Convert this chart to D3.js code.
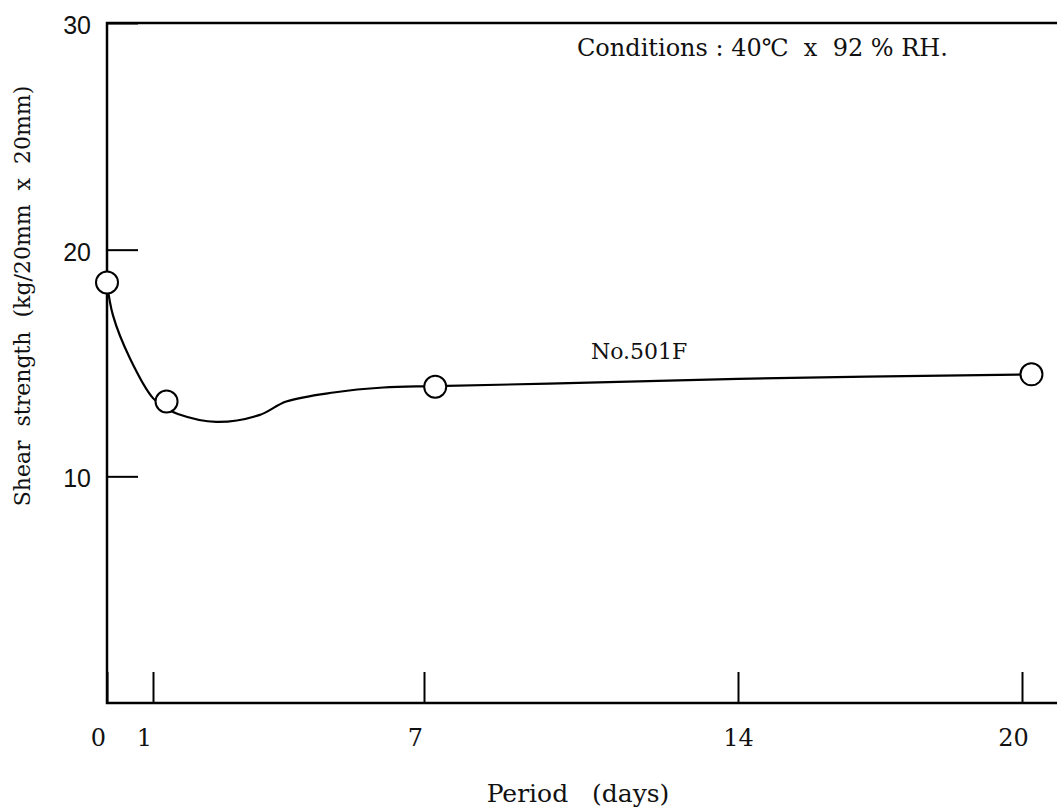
<!DOCTYPE html>
<html>
<head>
<meta charset="utf-8">
<script src="https://cdn.jsdelivr.net/npm/d3@7"></script>
<style>
  body { margin: 0; background: #fff; }
  svg { display: block; }
  text { fill: #111; }
</style>
</head>
<body>
<svg width="1057" height="811"></svg>
<script>
// measured points (days, kg/20mm x 20mm)
let pointDays = [0, 1.3, 7.25, 20.2];
let pointValues = [18.55, 13.3, 13.95, 14.5];

// hand drawn curve through the points
let curveDays = [0, 0.13, 0.5, 1.0, 1.3, 1.55, 2.4, 3.35, 3.95, 5.0, 6.1, 7.25, 10, 14, 20.2];
let curveValues = [18.55, 17.1, 15.2, 13.45, 13.0, 12.75, 12.4, 12.7, 13.3, 13.7, 13.92, 13.98, 14.1, 14.3, 14.5];

let xTicks = [0, 1, 7, 14, 20];
let yTicks = [10, 20, 30];

let svg = d3.select("svg");
let width = 1057;

// axis ticks were drawn by hand, spacing is a bit uneven
let x = d3.scaleLinear().domain([0, 1, 7, 14, 20]).range([107, 153, 424, 738, 1022]);
let y = d3.scaleLinear().domain([0, 30]).range([703, 23]);

// frame: left, top and bottom lines, right side open
svg.append("path")
  .attr("d", "M" + width + "," + y(30) + "H" + x(0) + "V" + y(0) + "H" + width)
  .attr("fill", "none")
  .attr("stroke", "#000")
  .attr("stroke-width", 2.5);

// x axis
let xAxis = svg.append("g")
  .attr("transform", "translate(0," + y(0) + ")")
  .call(d3.axisBottom(x).tickValues(xTicks).tickSizeInner(-31).tickSizeOuter(0).tickPadding(26));
xAxis.select(".domain").remove();
xAxis.selectAll(".tick line").attr("stroke", "#000").attr("stroke-width", 2);
xAxis.selectAll(".tick text")
  .attr("font-family", "DejaVu Serif")
  .attr("font-size", 24)
  .attr("dx", function (d) { return d == 14 ? 0 : -9; });

// y axis
let yAxis = svg.append("g")
  .attr("transform", "translate(" + x(0) + ",0)")
  .call(d3.axisLeft(y).tickValues(yTicks).tickSizeInner(-31).tickSizeOuter(0).tickPadding(16));
yAxis.select(".domain").remove();
yAxis.selectAll(".tick line").attr("stroke", "#000").attr("stroke-width", 2);
yAxis.selectAll(".tick text")
  .attr("font-family", "Liberation Sans")
  .attr("font-size", 25)
  .attr("dy", "0.42em");

// curve
let curveData = curveDays.map(function (d, i) { return [d, curveValues[i]]; });
let line = d3.line()
  .x(function (d) { return x(d[0]); })
  .y(function (d) { return y(d[1]); })
  .curve(d3.curveCatmullRom.alpha(0.5));

svg.append("path")
  .datum(curveData)
  .attr("d", line)
  .attr("fill", "none")
  .attr("stroke", "#000")
  .attr("stroke-width", 2.2);

// markers
svg.selectAll("circle.pt")
  .data(pointDays)
  .enter()
  .append("circle")
  .attr("class", "pt")
  .attr("cx", function (d) { return x(d); })
  .attr("cy", function (d, i) { return y(pointValues[i]); })
  .attr("r", 11)
  .attr("fill", "#fff")
  .attr("stroke", "#000")
  .attr("stroke-width", 2);

// labels
svg.append("text")
  .attr("x", 591)
  .attr("y", 359)
  .attr("font-family", "DejaVu Serif")
  .attr("font-size", 22)
  .text("No.501F");

svg.append("text")
  .attr("x", 577)
  .attr("y", 56)
  .attr("font-family", "DejaVu Serif")
  .attr("font-size", 24)
  .attr("xml:space", "preserve")
  .text("Conditions : 40\u2103  x  92 % RH.");

svg.append("text")
  .attr("x", 578)
  .attr("y", 802)
  .attr("text-anchor", "middle")
  .attr("font-family", "DejaVu Serif")
  .attr("font-size", 25)
  .attr("xml:space", "preserve")
  .text("Period   (days)");

svg.append("text")
  .attr("transform", "translate(30,296) rotate(-90)")
  .attr("text-anchor", "middle")
  .attr("font-family", "DejaVu Serif")
  .attr("font-size", 22)
  .attr("xml:space", "preserve")
  .text("Shear  strength  (kg/20mm  x  20mm)");
</script>
</body>
</html>
